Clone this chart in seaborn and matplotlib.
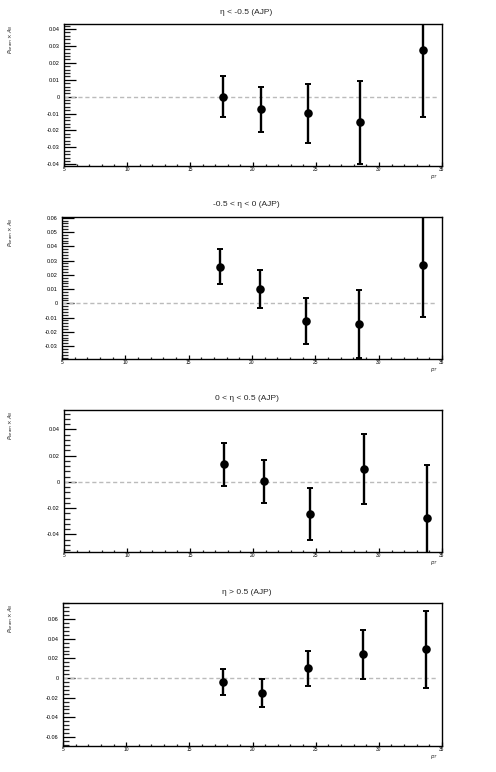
import matplotlib
matplotlib.use("Agg")
import matplotlib.pyplot as plt
from matplotlib.ticker import MultipleLocator, FuncFormatter
import seaborn as sns

# eta bins (AJP)
titles = ["η < -0.5 (AJP)", "-0.5 < η < 0 (AJP)", "0 < η < 0.5 (AJP)", "η > 0.5 (AJP)"]

# mean pT of each bin, per eta bin
pt_1 = [17.65, 20.65, 24.33, 28.5, 33.46]
pt_2 = [17.5, 20.6, 24.3, 28.47, 33.47]
pt_3 = [17.72, 20.84, 24.5, 28.8, 33.83]
pt_4 = [17.69, 20.76, 24.4, 28.77, 33.76]

# P_beam x A_N and stat errors
an_1 = [0.0, -0.0075, -0.0098, -0.0151, 0.0276]
err_1 = [0.0123, 0.0133, 0.0175, 0.0245, 0.0396]
an_2 = [0.0256, 0.0101, -0.0124, -0.0145, 0.0272]
err_2 = [0.0123, 0.0133, 0.0163, 0.0240, 0.0366]
an_3 = [0.0134, 0.0005, -0.0245, 0.0096, -0.0273]
err_3 = [0.0162, 0.0164, 0.0196, 0.0265, 0.0404]
an_4 = [-0.0038, -0.0150, 0.0099, 0.0242, 0.0293]
err_4 = [0.0130, 0.0140, 0.0180, 0.0247, 0.0390]

# y ranges and tick steps per panel
ylims = [(-0.041, 0.043), (-0.039, 0.0605), (-0.0534, 0.0547), (-0.0692, 0.0764)]
ysteps = [0.01, 0.01, 0.02, 0.02]

sns.set_theme(style="ticks")
plt.rcParams['font.family'] = ['Liberation Sans', 'DejaVu Sans']

W, H = 496, 772
fig = plt.figure(figsize=(W / 100, H / 100), dpi=100)
fig.patch.set_facecolor('white')

# axes boxes in pixels: left, top, right, bottom
boxes = [(64, 24, 442, 166), (62, 217, 442, 359), (64, 410, 442, 552), (63, 603, 442, 746)]
title_y = [13, 205, 399, 593]

data = [(pt_1, an_1, err_1), (pt_2, an_2, err_2), (pt_3, an_3, err_3), (pt_4, an_4, err_4)]

for i, (pts, vals, errs) in enumerate(data):
    l, t, r, b = boxes[i]
    ax = fig.add_axes([l / W, 1 - b / H, (r - l) / W, (b - t) / H])
    ax.set_facecolor('white')

    ax.plot([5, 34.6], [0, 0], color='#bbbbbb', lw=1.0, linestyle=(0, (3, 2)), zorder=1)
    ax.errorbar(pts, vals, yerr=errs, fmt='none', ecolor='black', elinewidth=1.7,
                capsize=2.2, capthick=1.4, zorder=2)
    sns.scatterplot(x=pts, y=vals, ax=ax, color='black', s=38, linewidth=0, zorder=3)

    ax.set_xlim(5, 35)
    ax.set_ylim(*ylims[i])
    ax.xaxis.set_major_locator(MultipleLocator(5))
    ax.xaxis.set_minor_locator(MultipleLocator(1))
    ax.yaxis.set_major_locator(MultipleLocator(ysteps[i]))
    ax.yaxis.set_minor_locator(MultipleLocator(ysteps[i] / 5))
    ax.yaxis.set_major_formatter(FuncFormatter(lambda v, p: "0" if abs(v) < 1e-9 else f"{v:g}"))

    ax.tick_params(axis='y', which='major', direction='in', length=8.4, width=0.9,
                   labelsize=4, pad=3, right=False, colors='black')
    ax.tick_params(axis='y', which='minor', direction='in', length=4.2, width=0.9, right=False)
    ax.tick_params(axis='x', which='major', direction='in', length=3, width=0.9,
                   labelsize=3.5, pad=1, top=False, colors='black')
    ax.tick_params(axis='x', which='minor', direction='in', length=1.5, width=0.9, top=False)
    for s in ax.spines.values():
        s.set_linewidth(1.0)
        s.set_color('black')

    ax.set_ylabel(r"$P_{beam}\times A_N$", fontsize=4, loc='top')
    ax.yaxis.set_label_coords((15 - l) / (r - l), 1.0)
    ax.set_xlabel(r"$p_T$", fontsize=4, loc='right')
    ax.xaxis.set_label_coords(0.99, -0.05)

    fig.text(0.497, 1 - title_y[i] / H, titles[i], ha='center', va='center', fontsize=6)

fig.savefig("out.png", dpi=100, facecolor='white')
